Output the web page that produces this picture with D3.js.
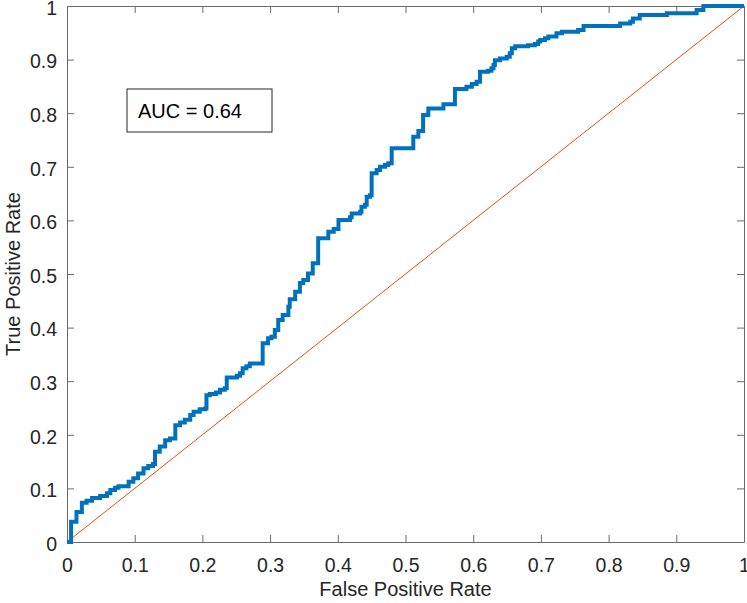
<!DOCTYPE html>
<html>
<head>
<meta charset="utf-8">
<script src="https://cdn.jsdelivr.net/npm/d3@7"></script>
<style>
  html, body { margin: 0; padding: 0; background: #fff; }
  svg text { font-family: "Liberation Sans", Arial, Helvetica, sans-serif; }
</style>
</head>
<body>
<svg id="chart" width="747" height="603"></svg>
<script>
// ROC staircase: false positive rate at each vertical step, true positive rate after the step
const fpr = [0, 0.006, 0.014, 0.022, 0.029, 0.037, 0.049, 0.059, 0.064, 0.071, 0.076, 0.091, 0.098, 0.105, 0.113, 0.120, 0.127,
  0.130, 0.137, 0.145, 0.152, 0.160, 0.167, 0.174, 0.182, 0.187, 0.196, 0.204, 0.206, 0.211, 0.220, 0.226, 0.233,
  0.236, 0.251, 0.2555, 0.2595, 0.265, 0.270, 0.289, 0.297, 0.302, 0.307, 0.312, 0.3186, 0.327, 0.329, 0.337, 0.344,
  0.349, 0.356, 0.363, 0.371, 0.386, 0.394, 0.401, 0.418, 0.4205, 0.433, 0.435, 0.440, 0.4427, 0.4476, 0.450, 0.4574,
  0.4623, 0.4697, 0.4746, 0.4796, 0.5115, 0.519, 0.526, 0.5337, 0.556, 0.573, 0.590, 0.598, 0.605, 0.610, 0.622,
  0.627, 0.630, 0.632, 0.6396, 0.6495, 0.654, 0.657, 0.662, 0.681, 0.691, 0.696, 0.699, 0.706, 0.711, 0.723, 0.731,
  0.755, 0.763, 0.817, 0.832, 0.836, 0.846, 0.886, 0.930, 0.940, 1.0];
const tpr = [0, 0.038, 0.056, 0.073, 0.077, 0.082, 0.086, 0.091, 0.097, 0.101, 0.104, 0.1125, 0.119, 0.128, 0.1375, 0.142, 0.1455,
  0.1685, 0.178, 0.190, 0.193, 0.218, 0.223, 0.228, 0.237, 0.243, 0.2475, 0.249, 0.274, 0.276, 0.279, 0.284, 0.287,
  0.307, 0.310, 0.315, 0.324, 0.328, 0.333, 0.371, 0.380, 0.383, 0.3955, 0.414, 0.4235, 0.439, 0.453, 0.467, 0.483,
  0.489, 0.501, 0.520, 0.5666, 0.579, 0.584, 0.6007, 0.6057, 0.613, 0.616, 0.6256, 0.629, 0.644, 0.647, 0.688, 0.694,
  0.700, 0.7034, 0.7065, 0.7345, 0.756, 0.767, 0.7966, 0.809, 0.8166, 0.845, 0.8495, 0.8545, 0.8588, 0.8775, 0.879,
  0.8837, 0.890, 0.899, 0.902, 0.9055, 0.9117, 0.921, 0.925, 0.927, 0.929, 0.934, 0.9366, 0.940, 0.943, 0.949, 0.952,
  0.955, 0.9625, 0.9675, 0.9707, 0.9767, 0.983, 0.9863, 0.9925, 1.0, 1.0];
const chanceX = [0, 1];
const chanceY = [0, 1];
const xTicks = [0, 0.1, 0.2, 0.3, 0.4, 0.5, 0.6, 0.7, 0.8, 0.9, 1];
const yTicks = [0, 0.1, 0.2, 0.3, 0.4, 0.5, 0.6, 0.7, 0.8, 0.9, 1];
const aucValue = 0.64;
const xTitle = "False Positive Rate";
const yTitle = "True Positive Rate";

const W = 747, H = 603;
const margin = { left: 67, top: 6, right: 3, bottom: 61 };
const iw = W - margin.left - margin.right;
const ih = H - margin.top - margin.bottom;
const font = "19.5px";
const axisColor = "#6b6b6b";
const textColor = "#262626";

const svg = d3.select("#chart");
const g = svg.append("g").attr("transform", `translate(${margin.left},${margin.top})`);

const x = d3.scaleLinear().domain([0, 1]).range([0, iw]);
const y = d3.scaleLinear().domain([0, 1]).range([ih, 0]);

const fmt = d => (d === 0 || d === 1) ? String(d) : d3.format(".1f")(d);

// Axes (ticks pointing inward, box on all four sides)
const axB = g.append("g").attr("transform", `translate(0,${ih})`)
  .call(d3.axisBottom(x).tickValues(xTicks).tickFormat(fmt).tickSizeInner(-7).tickSizeOuter(0).tickPadding(0));
const axT = g.append("g")
  .call(d3.axisTop(x).tickValues(xTicks).tickFormat("").tickSizeInner(-7).tickSizeOuter(0));
const axL = g.append("g")
  .call(d3.axisLeft(y).tickValues(yTicks).tickFormat(fmt).tickSizeInner(-7).tickSizeOuter(0).tickPadding(10));
const axR = g.append("g").attr("transform", `translate(${iw},0)`)
  .call(d3.axisRight(y).tickValues(yTicks).tickFormat("").tickSizeInner(-7).tickSizeOuter(0));

[axB, axT, axL, axR].forEach(a => {
  a.select(".domain").attr("stroke", axisColor).attr("stroke-width", 1);
  a.selectAll(".tick line").attr("stroke", axisColor).attr("stroke-width", 1);
  a.selectAll("text").attr("fill", textColor).style("font-size", font).attr("font-family", null);
});
axB.selectAll(".tick text").attr("y", 29.5).attr("dy", 0);
axL.selectAll(".tick text").attr("dy", "0.43em");

// Chance diagonal
const diag = chanceX.map((v, i) => [v, chanceY[i]]);
g.append("path")
  .datum(diag)
  .attr("fill", "none")
  .attr("stroke", "#D95319")
  .attr("stroke-width", 1)
  .attr("d", d3.line().x(d => x(d[0])).y(d => y(d[1])));

// ROC curve
const roc = fpr.map((v, i) => [v, tpr[i]]);
g.append("path")
  .datum(roc)
  .attr("fill", "none")
  .attr("stroke", "#0072BD")
  .attr("stroke-width", 4)
  .attr("stroke-linejoin", "miter")
  .attr("d", d3.line().x(d => x(d[0])).y(d => y(d[1])).curve(d3.curveStepAfter));

// AUC annotation box
const box = g.append("g").attr("transform", `translate(${127 - margin.left},${89 - margin.top})`);
box.append("rect")
  .attr("width", 145).attr("height", 43)
  .attr("fill", "#fff").attr("stroke", "#262626").attr("stroke-width", 1);
box.append("text")
  .attr("x", 11).attr("y", 28.5)
  .attr("fill", "#000")
  .style("font-size", "20px")
  .text(`AUC = ${aucValue.toFixed(2)}`);

// Axis titles
svg.append("text")
  .attr("x", margin.left + iw / 2).attr("y", 596)
  .attr("text-anchor", "middle").attr("fill", textColor)
  .style("font-size", "20px")
  .text(xTitle);
svg.append("text")
  .attr("transform", `translate(20,${margin.top + ih / 2}) rotate(-90)`)
  .attr("text-anchor", "middle").attr("fill", textColor)
  .style("font-size", "20px")
  .text(yTitle);
</script>
</body>
</html>
